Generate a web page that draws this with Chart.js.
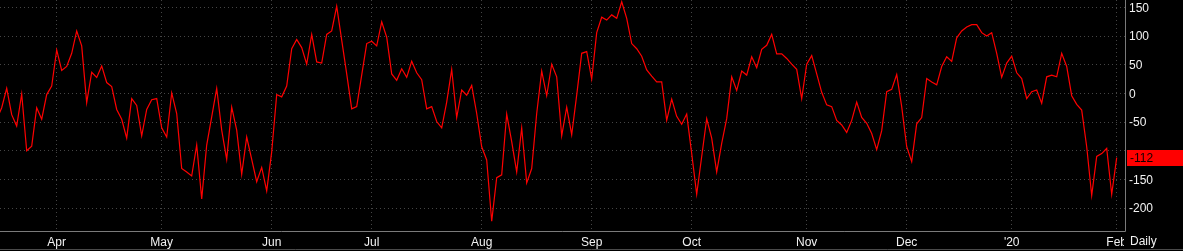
<!DOCTYPE html>
<html>
<head>
<meta charset="utf-8">
<script src="https://cdn.jsdelivr.net/npm/chart.js@4.4.1/dist/chart.umd.min.js"></script>
<style>
  html, body { margin: 0; background: #000; overflow: hidden; }
  #wrap { width: 1183px; height: 251px; position: relative; }
</style>
</head>
<body>
<div id="wrap"><canvas id="grafico"></canvas></div>
<script>
// valores diários (primeiro ponto é índice -1, fica cortado à esquerda)
const firstIndex = -1;
const values = [
  -45, -25, 9, -37, -57, -1, -100, -92, -25, -45, -2, 13,
  76, 40, 47, 70, 109, 83, -16, 37, 28, 48, 19, 12, -28, -45, -78, -9, -21, -74, -28, -11, -9,
  -60, -76, 1, -35, -131, -137, -144, -90, -184, -90, -41, 9, -64, -115, -24, -64, -141, -76, -115, -154, -129, -170,
  -102, -2, -6, 13, 78, 94, 80, 51, 103, 55, 53, 103, 109, 152, 93, 34, -27, -23, 32, 87,
  91, 83, 125, 98, 34, 23, 43, 28, 56, 36, 24, -27, -23, -49, -60, -15, 42, -42, 6, -3, 14, -35,
  -93, -116, -223, -147, -142, -36, -84, -137, -60, -156, -131, -35, 39, -4, 51, 29, -74, -24, -72, -3, 70, 73,
  25, 106, 133, 128, 137, 131, 160, 131, 87, 78, 65, 41, 30, 20, 20, -47, -10, -40, -54, -36,
  -105, -176, -110, -44, -78, -137, -87, -44, 29, 5, 39, 32, 64, 45, 77, 84, 103, 69, 69, 61, 51, 42, -9,
  51, 66, 34, 2, -20, -23, -47, -55, -68, -47, -15, -42, -52, -70, -98, -65, 3, 7, 33, -23,
  -93, -119, -53, -42, 26, 20, 15, 47, 64, 56, 97, 109, 116, 120, 120, 106, 100, 106, 70, 28, 53,
  65, 36, 26, -9, 3, 6, -17, 29, 32, 29, 70, 47, -4, -19, -29, -93, -178, -110, -105, -96, -176,
  -112
];

// início de cada mês (índice do pregão) e rótulos
const monthIdx = [11, 32, 54, 74, 96, 118, 138, 161, 181, 202, 223];
const monthLabels = ["Apr", "May", "Jun", "Jul", "Aug", "Sep", "Oct", "Nov", "Dec", "'20", "Feb"];
const yTicks = [150, 100, 50, 0, -50, -100, -150, -200];

const pontos = values.map((v, i) => ({ x: i + firstIndex, y: v }));
const last = values[values.length - 1];

Chart.defaults.font.family = '"Liberation Sans", Arial, sans-serif';
Chart.defaults.font.size = 12;

const extras = {
  id: "extras",
  afterDraw(chart) {
    const { ctx, chartArea: a, scales: { y } } = chart;
    ctx.save();
    // eixos
    ctx.strokeStyle = "#7a7a7a";
    ctx.lineWidth = 1;
    ctx.beginPath();
    ctx.moveTo(a.right + 0.5, 0);
    ctx.lineTo(a.right + 0.5, a.bottom + 0.5);
    ctx.lineTo(0, a.bottom + 0.5);
    ctx.stroke();
    ctx.strokeStyle = "#4a4a4a";
    ctx.beginPath();
    ctx.moveTo(0, chart.height - 1.5);
    ctx.lineTo(chart.width, chart.height - 1.5);
    ctx.stroke();

    // último valor
    const py = Math.round(y.getPixelForValue(last));
    ctx.fillStyle = "#ff0000";
    ctx.fillRect(a.right + 2, py - 8, chart.width - a.right - 2, 16);
    ctx.font = '12px "Liberation Sans", Arial';
    ctx.textBaseline = "middle";
    ctx.fillStyle = "#140000";
    ctx.fillText(String(last), a.right + 5, py + 1);

    // "Daily" por cima do rótulo de Feb
    ctx.fillStyle = "#000";
    ctx.fillRect(a.right - 1, a.bottom + 2, chart.width - a.right + 1, chart.height - a.bottom - 4);
    ctx.fillStyle = "#f2f2f2";
    ctx.fillText("Daily", a.right + 5, a.bottom + 11);
    ctx.restore();
  }
};

new Chart(document.getElementById("grafico"), {
  type: "line",
  data: {
    datasets: [{
      data: pontos,
      borderColor: "#ff0000",
      borderWidth: 1.2,
      pointRadius: 0,
      tension: 0
    }]
  },
  options: {
    responsive: true,
    maintainAspectRatio: false,
    animation: false,
    layout: { padding: 0 },
    plugins: { legend: { display: false }, tooltip: { enabled: false } },
    scales: {
      x: {
        type: "linear",
        min: -0.34,
        max: 224.66,
        afterBuildTicks: (s) => { s.ticks = monthIdx.map(v => ({ value: v })); },
        afterFit: (s) => { s.height = 20; s.paddingLeft = 0; s.paddingRight = 0; },
        grid: { color: "#454545", drawTicks: false },
        border: { display: false, dash: [1, 3] },
        ticks: {
          color: "#f2f2f2",
          padding: 4,
          autoSkip: false,
          maxRotation: 0,
          callback: (v, i) => monthLabels[i]
        }
      },
      y: {
        position: "right",
        min: -240,
        max: 163,
        afterBuildTicks: (s) => { s.ticks = yTicks.map(v => ({ value: v })); },
        afterFit: (s) => { s.width = 58; s.paddingTop = 0; s.paddingBottom = 0; },
        grid: { color: "#454545", drawTicks: false },
        border: { display: false, dash: [1, 3] },
        ticks: {
          color: "#f2f2f2",
          padding: 4,
          labelOffset: 1,
          // o rótulo que fica sob a marca do último valor não aparece
          callback: (v) => (Math.abs(v - last) < 25 ? "" : String(v))
        }
      }
    }
  },
  plugins: [extras]
});
</script>
</body>
</html>
